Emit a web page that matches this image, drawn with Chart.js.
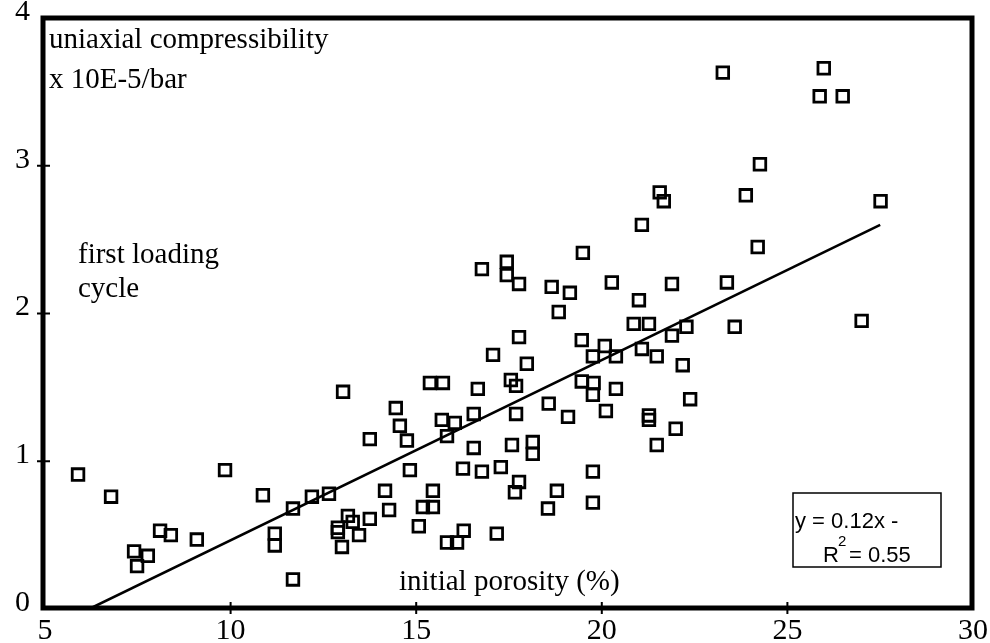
<!DOCTYPE html>
<html><head><meta charset="utf-8">
<script src="https://cdn.jsdelivr.net/npm/chart.js@4.4.0/dist/chart.umd.min.js"></script>
<style>html,body{margin:0;padding:0;background:#fff;}</style>
</head><body>
<canvas id="c" width="990" height="643"></canvas>
<script>
// ---- data ----
const porosity = [
  5.89, 6.78, 7.40, 7.48, 7.77, 8.10, 8.39, 9.09, 9.85, 10.87,
  11.19, 11.19, 11.68, 11.68, 12.19, 12.65, 12.89, 12.89, 13.00, 13.16,
  13.29, 13.46, 13.75, 14.16, 14.27, 14.83, 15.07, 15.18, 15.45, 15.45,
  13.03, 13.75, 14.45, 14.56, 14.75, 15.37, 15.72, 15.69, 15.83, 16.04,
  15.83, 16.10, 16.28, 16.26, 16.55, 16.55, 16.66, 16.77, 17.07, 17.17,
  17.28, 17.55, 17.69, 17.69, 17.58, 17.66, 17.77, 17.77, 17.98, 18.14,
  18.14, 18.57, 18.55, 18.79, 19.09, 18.84, 19.46, 19.46, 19.76, 19.78,
  19.76, 19.76, 19.76, 20.08, 20.38, 20.11, 20.38, 16.77, 17.44, 17.44,
  17.77, 19.49, 18.65, 19.14, 20.27, 21.00, 20.86, 21.27, 21.89, 22.28,
  23.58, 21.08, 21.48, 22.18, 22.38, 21.27, 21.27, 21.99, 21.48, 21.89,
  23.37, 21.08, 21.56, 21.67, 23.88, 24.26, 24.20, 23.26, 25.98, 25.87,
  26.49, 27.51, 27.00
];
const compressibility = [
  0.91, 0.76, 0.39, 0.29, 0.36, 0.53, 0.50, 0.47, 0.94, 0.77,
  0.51, 0.43, 0.20, 0.68, 0.76, 0.78, 0.55, 0.52, 0.42, 0.63,
  0.59, 0.50, 0.61, 0.80, 0.67, 0.94, 0.56, 0.69, 0.80, 0.69,
  1.47, 1.15, 1.36, 1.24, 1.14, 1.53, 1.53, 1.28, 1.17, 1.26,
  0.45, 0.45, 0.53, 0.95, 1.32, 1.09, 1.49, 0.93, 1.72, 0.51,
  0.96, 1.55, 1.51, 1.32, 1.11, 0.79, 0.86, 1.84, 1.66, 1.13,
  1.05, 1.39, 0.68, 0.80, 1.30, 2.01, 1.82, 1.54, 1.71, 1.53,
  1.45, 0.93, 0.72, 1.78, 1.71, 1.34, 1.49, 2.30, 2.35, 2.26,
  2.20, 2.41, 2.18, 2.14, 2.21, 2.09, 1.93, 1.93, 1.85, 1.91,
  1.91, 1.76, 1.71, 1.65, 1.42, 1.31, 1.28, 1.22, 1.11, 2.20,
  2.21, 2.60, 2.82, 2.76, 2.80, 3.01, 2.45, 3.63, 3.66, 3.47,
  3.47, 2.76, 1.95
];
const fitSlope = 0.122;
const fitIntercept = -0.755;
const fitXRange = [6.19, 27.5];
const xTickValues = [5, 10, 15, 20, 25, 30];
const yTickValues = [0, 1, 2, 3, 4];
const xTitle = 'initial porosity (%)';
const yTitleLines = ['uniaxial compressibility', 'x 10E-5/bar'];
const noteLines = ['first loading', 'cycle'];
const eqLine1 = 'y = 0.12x -';
const eqR2 = '0.55';

// ---- build chart ----
const points = porosity.map((x, i) => ({ x: x, y: compressibility[i] }));
const fitLine = fitXRange.map(x => ({ x: x, y: fitSlope * x + fitIntercept }));

const SERIF = '"Liberation Serif", "DejaVu Serif", serif';
const SANS = '"Liberation Sans", Arial, sans-serif';

const decorPlugin = {
  id: 'decor',
  afterDraw(chart) {
    const ctx = chart.ctx;
    const ca = chart.chartArea;
    const xs = chart.scales.x, ys = chart.scales.y;
    ctx.save();
    ctx.strokeStyle = '#000';
    // frame
    ctx.lineWidth = 5;
    ctx.strokeRect(ca.left - 2, ca.top, ca.right - ca.left + 1, ca.bottom - ca.top - 1);
    // crossing tick marks
    ctx.lineWidth = 2;
    ctx.beginPath();
    yTickValues.slice(1, -1).forEach(v => {
      const py = ys.getPixelForValue(v);
      ctx.moveTo(ca.left - 8, py); ctx.lineTo(ca.left + 5, py);
    });
    xTickValues.slice(1, -1).forEach(v => {
      const px = xs.getPixelForValue(v);
      ctx.moveTo(px, ca.bottom - 7); ctx.lineTo(px, ca.bottom + 5);
    });
    ctx.stroke();
    // text annotations
    ctx.fillStyle = '#000';
    ctx.textBaseline = 'alphabetic';
    ctx.textAlign = 'left';
    ctx.font = '29px ' + SERIF;
    ctx.fillText(yTitleLines[0], ca.left + 4, ca.top + 30);
    ctx.fillText(yTitleLines[1], ca.left + 4, ca.top + 70);
    ctx.fillText(noteLines[0], ca.left + 33, ca.top + 245);
    ctx.fillText(noteLines[1], ca.left + 33, ca.top + 279);
    ctx.fillText(xTitle, ca.left + 354, ca.bottom - 19);
    // equation box
    const bx = ca.left + 748, by = ca.top + 475;
    ctx.lineWidth = 1.5;
    ctx.strokeRect(bx, by, 148, 74);
    ctx.font = '22px ' + SANS;
    ctx.fillText(eqLine1, bx + 2, by + 35);
    ctx.fillText('R', bx + 30, by + 69);
    ctx.font = '15px ' + SANS;
    ctx.fillText('2', bx + 45, by + 53);
    ctx.font = '22px ' + SANS;
    ctx.fillText('= ' + eqR2, bx + 56, by + 69);
    ctx.restore();
  }
};

new Chart(document.getElementById('c'), {
  type: 'scatter',
  data: {
    datasets: [
      {
        label: 'data',
        data: points,
        pointStyle: 'rect',
        pointRadius: 8.2,
        pointHoverRadius: 8.2,
        borderColor: '#000',
        backgroundColor: 'rgba(0,0,0,0)',
        borderWidth: 2.8,
        pointBorderWidth: 2.8
      },
      {
        label: 'fit',
        type: 'line',
        data: fitLine,
        borderColor: '#000',
        borderWidth: 2.6,
        pointRadius: 0,
        fill: false,
        showLine: true
      }
    ]
  },
  options: {
    responsive: false,
    animation: false,
    devicePixelRatio: 1,
    layout: { padding: { top: 18, right: 17, left: 0, bottom: 0 } },
    plugins: { legend: { display: false }, tooltip: { enabled: false } },
    scales: {
      x: {
        type: 'linear', min: 5, max: 30,
        afterBuildTicks: s => { s.ticks = xTickValues.map(v => ({ value: v })); },
        afterFit: s => { s.height = 34; },
        grid: { display: false, drawTicks: true, tickLength: 4 },
        border: { display: false },
        ticks: { color: '#000', padding: 0, font: { family: SERIF, size: 30 }, maxRotation: 0, autoSkip: false }
      },
      y: {
        type: 'linear', min: 0, max: 4,
        afterBuildTicks: s => { s.ticks = yTickValues.map(v => ({ value: v })); },
        afterFit: s => { s.width = 45; },
        grid: { display: false, drawTicks: true, tickLength: 15 },
        border: { display: false },
        ticks: { color: '#000', padding: 0, labelOffset: -6, font: { family: SERIF, size: 30 }, autoSkip: false }
      }
    }
  },
  plugins: [decorPlugin]
});
</script>
</body></html>
